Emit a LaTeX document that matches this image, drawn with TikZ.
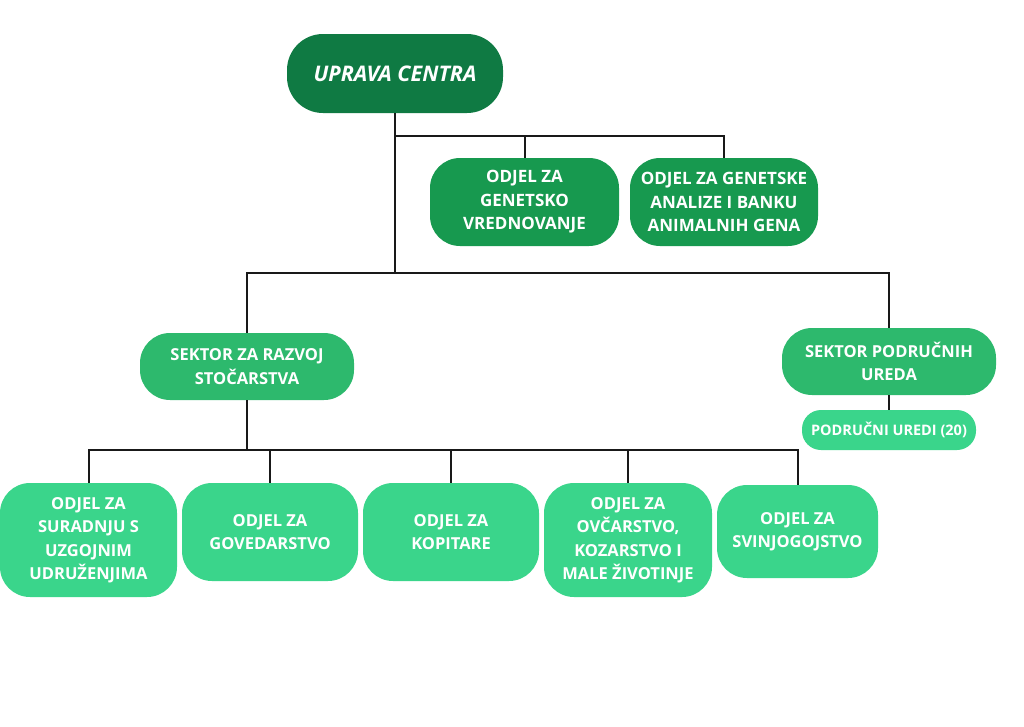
\documentclass[tikz,border=0pt]{standalone}
\usepackage{fontspec}
\setmainfont{Open Sans}
\usetikzlibrary{positioning}
\definecolor{upravagreen}{HTML}{0F7A43}
\definecolor{odjelgreen}{HTML}{17994F}
\definecolor{sektorgreen}{HTML}{2DB96D}
\definecolor{uredgreen}{HTML}{3AD58B}
\tikzset{
  orgbox/.style={rounded corners=30pt, text=white, align=center, inner sep=0pt,
    font=\bfseries\fontsize{16.5}{23.5}\selectfont},
  link/.style={draw=black!90, line width=2pt},
}
\begin{document}
\begin{tikzpicture}[x=1pt,y=-1pt]
\useasboundingbox (0,0) rectangle (1024,726);
% uprava
\node[orgbox, fill=upravagreen, rounded corners=36pt, minimum width=216, minimum height=79,
  font=\bfseries\itshape\fontsize{21.5}{26}\selectfont] (uprava) at (395,73.5) {UPRAVA CENTRA};
\node[orgbox, fill=odjelgreen, minimum width=189, minimum height=88,
  font=\bfseries\fontsize{17}{23.5}\selectfont] (genetsko) at (524.5,202) {ODJEL ZA\\GENETSKO\\VREDNOVANJE};
\node[orgbox, fill=odjelgreen, minimum width=188, minimum height=88,
  font=\bfseries\fontsize{17}{23.5}\selectfont] (banka) at (724,202) {ODJEL ZA GENETSKE\\ANALIZE I BANKU\\ANIMALNIH GENA};
% sektori
\node[orgbox, fill=sektorgreen, minimum width=214, minimum height=67] (razvoj) at (247,366.5) {SEKTOR ZA RAZVOJ\\STOČARSTVA};
\node[orgbox, fill=sektorgreen, minimum width=214, minimum height=67] (podrucni) at (889,361.5) {SEKTOR PODRUČNIH\\UREDA};
\node[orgbox, fill=uredgreen, rounded corners=19pt, minimum width=174, minimum height=40,
  font=\bfseries\fontsize{14.5}{20}\selectfont] (uredi) at (889,430) {PODRUČNI UREDI (20)};
% odjeli
\node[orgbox, fill=uredgreen, minimum width=177, minimum height=114] (suradnja) at (88.5,540) {ODJEL ZA\\SURADNJU S\\UZGOJNIM\\UDRUŽENJIMA};
\node[orgbox, fill=uredgreen, minimum width=176, minimum height=98] (govedarstvo) at (270,532) {ODJEL ZA\\GOVEDARSTVO};
\node[orgbox, fill=uredgreen, minimum width=176, minimum height=98] (kopitare) at (451,532) {ODJEL ZA\\KOPITARE};
\node[orgbox, fill=uredgreen, minimum width=168, minimum height=114] (ovcarstvo) at (628,540) {ODJEL ZA\\OVČARSTVO,\\KOZARSTVO I\\MALE ŽIVOTINJE};
\node[orgbox, fill=uredgreen, minimum width=161, minimum height=93] (svinjogojstvo) at (797.5,531.5) {ODJEL ZA\\SVINJOGOJSTVO};
% veze
\coordinate (j1) at (395,136);
\coordinate (j2) at (395,273);
\coordinate (j3) at (247,450);
\path[link] (uprava.south) -- (j2);
\path[link] (j1) -| (genetsko.north);
\path[link] (j1) -| (banka.north);
\path[link] (j2) -| (razvoj.north);
\path[link] (j2) -| (podrucni.north);
\path[link] (podrucni.south) -- (uredi.north);
\path[link] (razvoj.south) -- (j3);
\path[link] (j3) -| (suradnja.north);
\path[link] (j3) -| (govedarstvo.north);
\path[link] (j3) -| (kopitare.north);
\path[link] (j3) -| (ovcarstvo.north);
\path[link] (j3) -| (svinjogojstvo.north);
\end{tikzpicture}
\end{document}
